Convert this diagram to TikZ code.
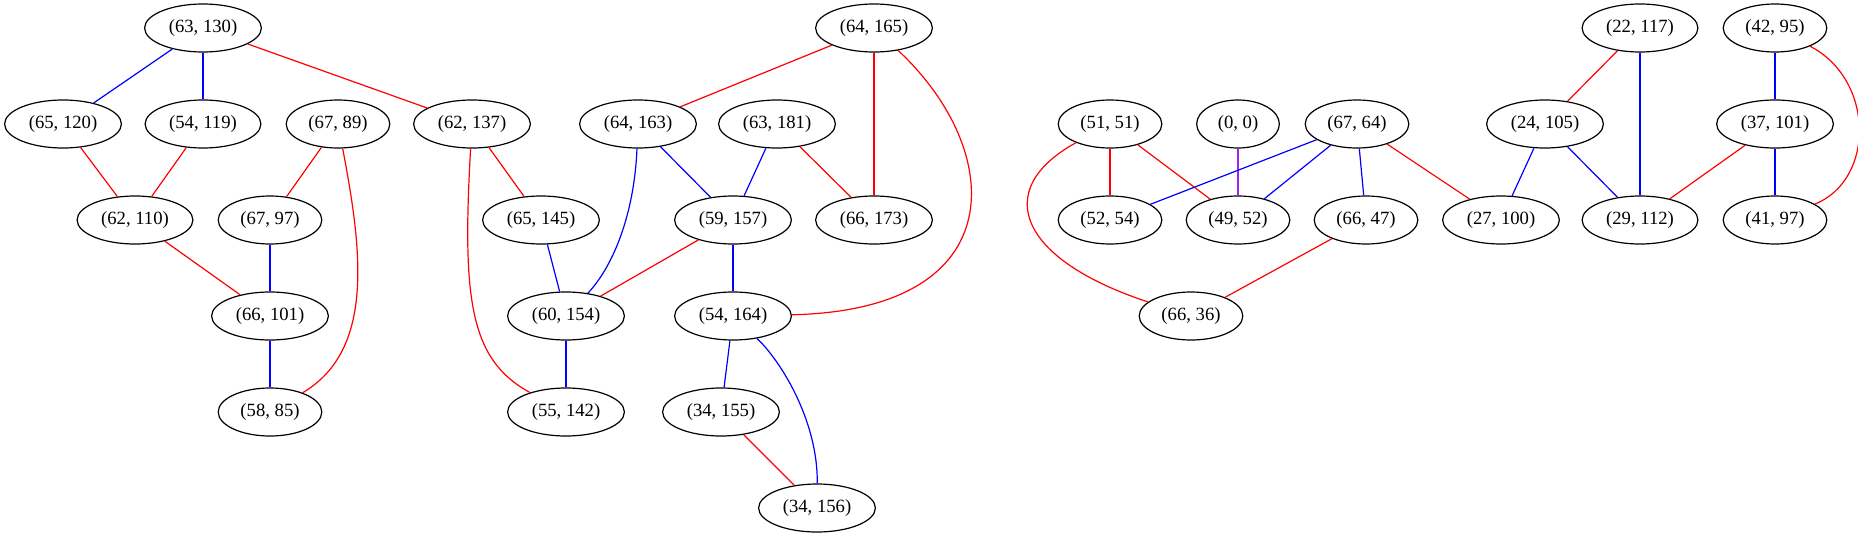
\documentclass[tikz,border=0pt]{standalone}
\usepackage{fontspec}
\setmainfont{Liberation Serif}
\usetikzlibrary{shapes.geometric}
\begin{document}
\begin{tikzpicture}[x=0.75pt,y=-0.75pt]
\tikzstyle{vertex}=[ellipse,draw=black,line width=0.9pt,minimum width=62pt,minimum height=36pt,inner xsep=5.3pt,inner ysep=2pt,font=\fontsize{14}{16}\selectfont]
\tikzstyle{rededge}=[draw=red,line width=0.9pt]
\tikzstyle{blueedge}=[draw=blue,line width=0.9pt]
\tikzstyle{purpleedge}=[draw={rgb,255:red,160;green,32;blue,240},line width=0.9pt]

\useasboundingbox (0,0) rectangle (1858,539);

\node [vertex] at (203,28) (v63x130) {(63, 130)};
\node [vertex] at (63,124) (v65x120) {(65, 120)};
\node [vertex] at (203,124) (v54x119) {(54, 119)};
\node [vertex] at (338,124) (v67x89) {(67, 89)};
\node [vertex] at (472,124) (v62x137) {(62, 137)};
\node [vertex] at (135,220) (v62x110) {(62, 110)};
\node [vertex] at (270,220) (v67x97) {(67, 97)};
\node [vertex] at (270,316) (v66x101) {(66, 101)};
\node [vertex] at (270,412) (v58x85) {(58, 85)};
\node [vertex] at (541,220) (v65x145) {(65, 145)};
\node [vertex] at (566,316) (v60x154) {(60, 154)};
\node [vertex] at (566,412) (v55x142) {(55, 142)};

\node [vertex] at (874,28) (v64x165) {(64, 165)};
\node [vertex] at (638,124) (v64x163) {(64, 163)};
\node [vertex] at (777,124) (v63x181) {(63, 181)};
\node [vertex] at (733,220) (v59x157) {(59, 157)};
\node [vertex] at (874,220) (v66x173) {(66, 173)};
\node [vertex] at (733,316) (v54x164) {(54, 164)};
\node [vertex] at (721,412) (v34x155) {(34, 155)};
\node [vertex] at (817,508) (v34x156) {(34, 156)};

\node [vertex] at (1110,124) (v51x51) {(51, 51)};
\node [vertex] at (1238,124) (v0x0) {(0, 0)};
\node [vertex] at (1357,124) (v67x64) {(67, 64)};
\node [vertex] at (1110,220) (v52x54) {(52, 54)};
\node [vertex] at (1238,220) (v49x52) {(49, 52)};
\node [vertex] at (1366,220) (v66x47) {(66, 47)};
\node [vertex] at (1191,316) (v66x36) {(66, 36)};
\node [vertex] at (1501,220) (v27x100) {(27, 100)};
\node [vertex] at (1545,124) (v24x105) {(24, 105)};
\node [vertex] at (1640,28) (v22x117) {(22, 117)};
\node [vertex] at (1640,220) (v29x112) {(29, 112)};
\node [vertex] at (1775,28) (v42x95) {(42, 95)};
\node [vertex] at (1775,124) (v37x101) {(37, 101)};
\node [vertex] at (1775,220) (v41x97) {(41, 97)};

\draw [blueedge] (v63x130) -- (v65x120);
\draw [blueedge] (v63x130) -- (v54x119);
\draw [rededge] (v63x130) -- (v62x137);
\draw [rededge] (v65x120) -- (v62x110);
\draw [rededge] (v54x119) -- (v62x110);
\draw [rededge] (v62x110) -- (v66x101);
\draw [rededge] (v67x89) -- (v67x97);
\draw [rededge] (v67x89) .. controls (362,250) and (375,350) .. (v58x85);
\draw [blueedge] (v67x97) -- (v66x101);
\draw [blueedge] (v66x101) -- (v58x85);
\draw [rededge] (v62x137) -- (v65x145);
\draw [rededge] (v62x137) .. controls (462,300) and (470,360) .. (v55x142);
\draw [blueedge] (v65x145) -- (v60x154);
\draw [blueedge] (v60x154) -- (v55x142);

\draw [rededge] (v64x165) -- (v64x163);
\draw [rededge] (v64x165) -- (v66x173);
\draw [rededge] (v64x165) .. controls (1005,150) and (1015,310) .. (v54x164);
\draw [blueedge] (v64x163) .. controls (634,220) and (610,270) .. (v60x154);
\draw [blueedge] (v64x163) -- (v59x157);
\draw [blueedge] (v63x181) -- (v59x157);
\draw [rededge] (v63x181) -- (v66x173);
\draw [rededge] (v59x157) -- (v60x154);
\draw [blueedge] (v59x157) -- (v54x164);
\draw [blueedge] (v54x164) -- (v34x155);
\draw [blueedge] (v54x164) .. controls (780,360) and (818,420) .. (v34x156);
\draw [rededge] (v34x155) -- (v34x156);

\draw [rededge] (v51x51) -- (v52x54);
\draw [rededge] (v51x51) -- (v49x52);
\draw [rededge] (v51x51) .. controls (990,190) and (1020,260) .. (v66x36);
\draw [purpleedge] (v0x0) -- (v49x52);
\draw [blueedge] (v67x64) -- (v52x54);
\draw [blueedge] (v67x64) -- (v49x52);
\draw [blueedge] (v67x64) -- (v66x47);
\draw [rededge] (v67x64) -- (v27x100);
\draw [rededge] (v66x47) -- (v66x36);
\draw [rededge] (v22x117) -- (v24x105);
\draw [blueedge] (v22x117) -- (v29x112);
\draw [blueedge] (v24x105) -- (v27x100);
\draw [blueedge] (v24x105) -- (v29x112);
\draw [blueedge] (v42x95) -- (v37x101);
\draw [rededge] (v42x95) .. controls (1875,80) and (1875,180) .. (v41x97);
\draw [rededge] (v37x101) -- (v29x112);
\draw [blueedge] (v37x101) -- (v41x97);
\end{tikzpicture}
\end{document}
